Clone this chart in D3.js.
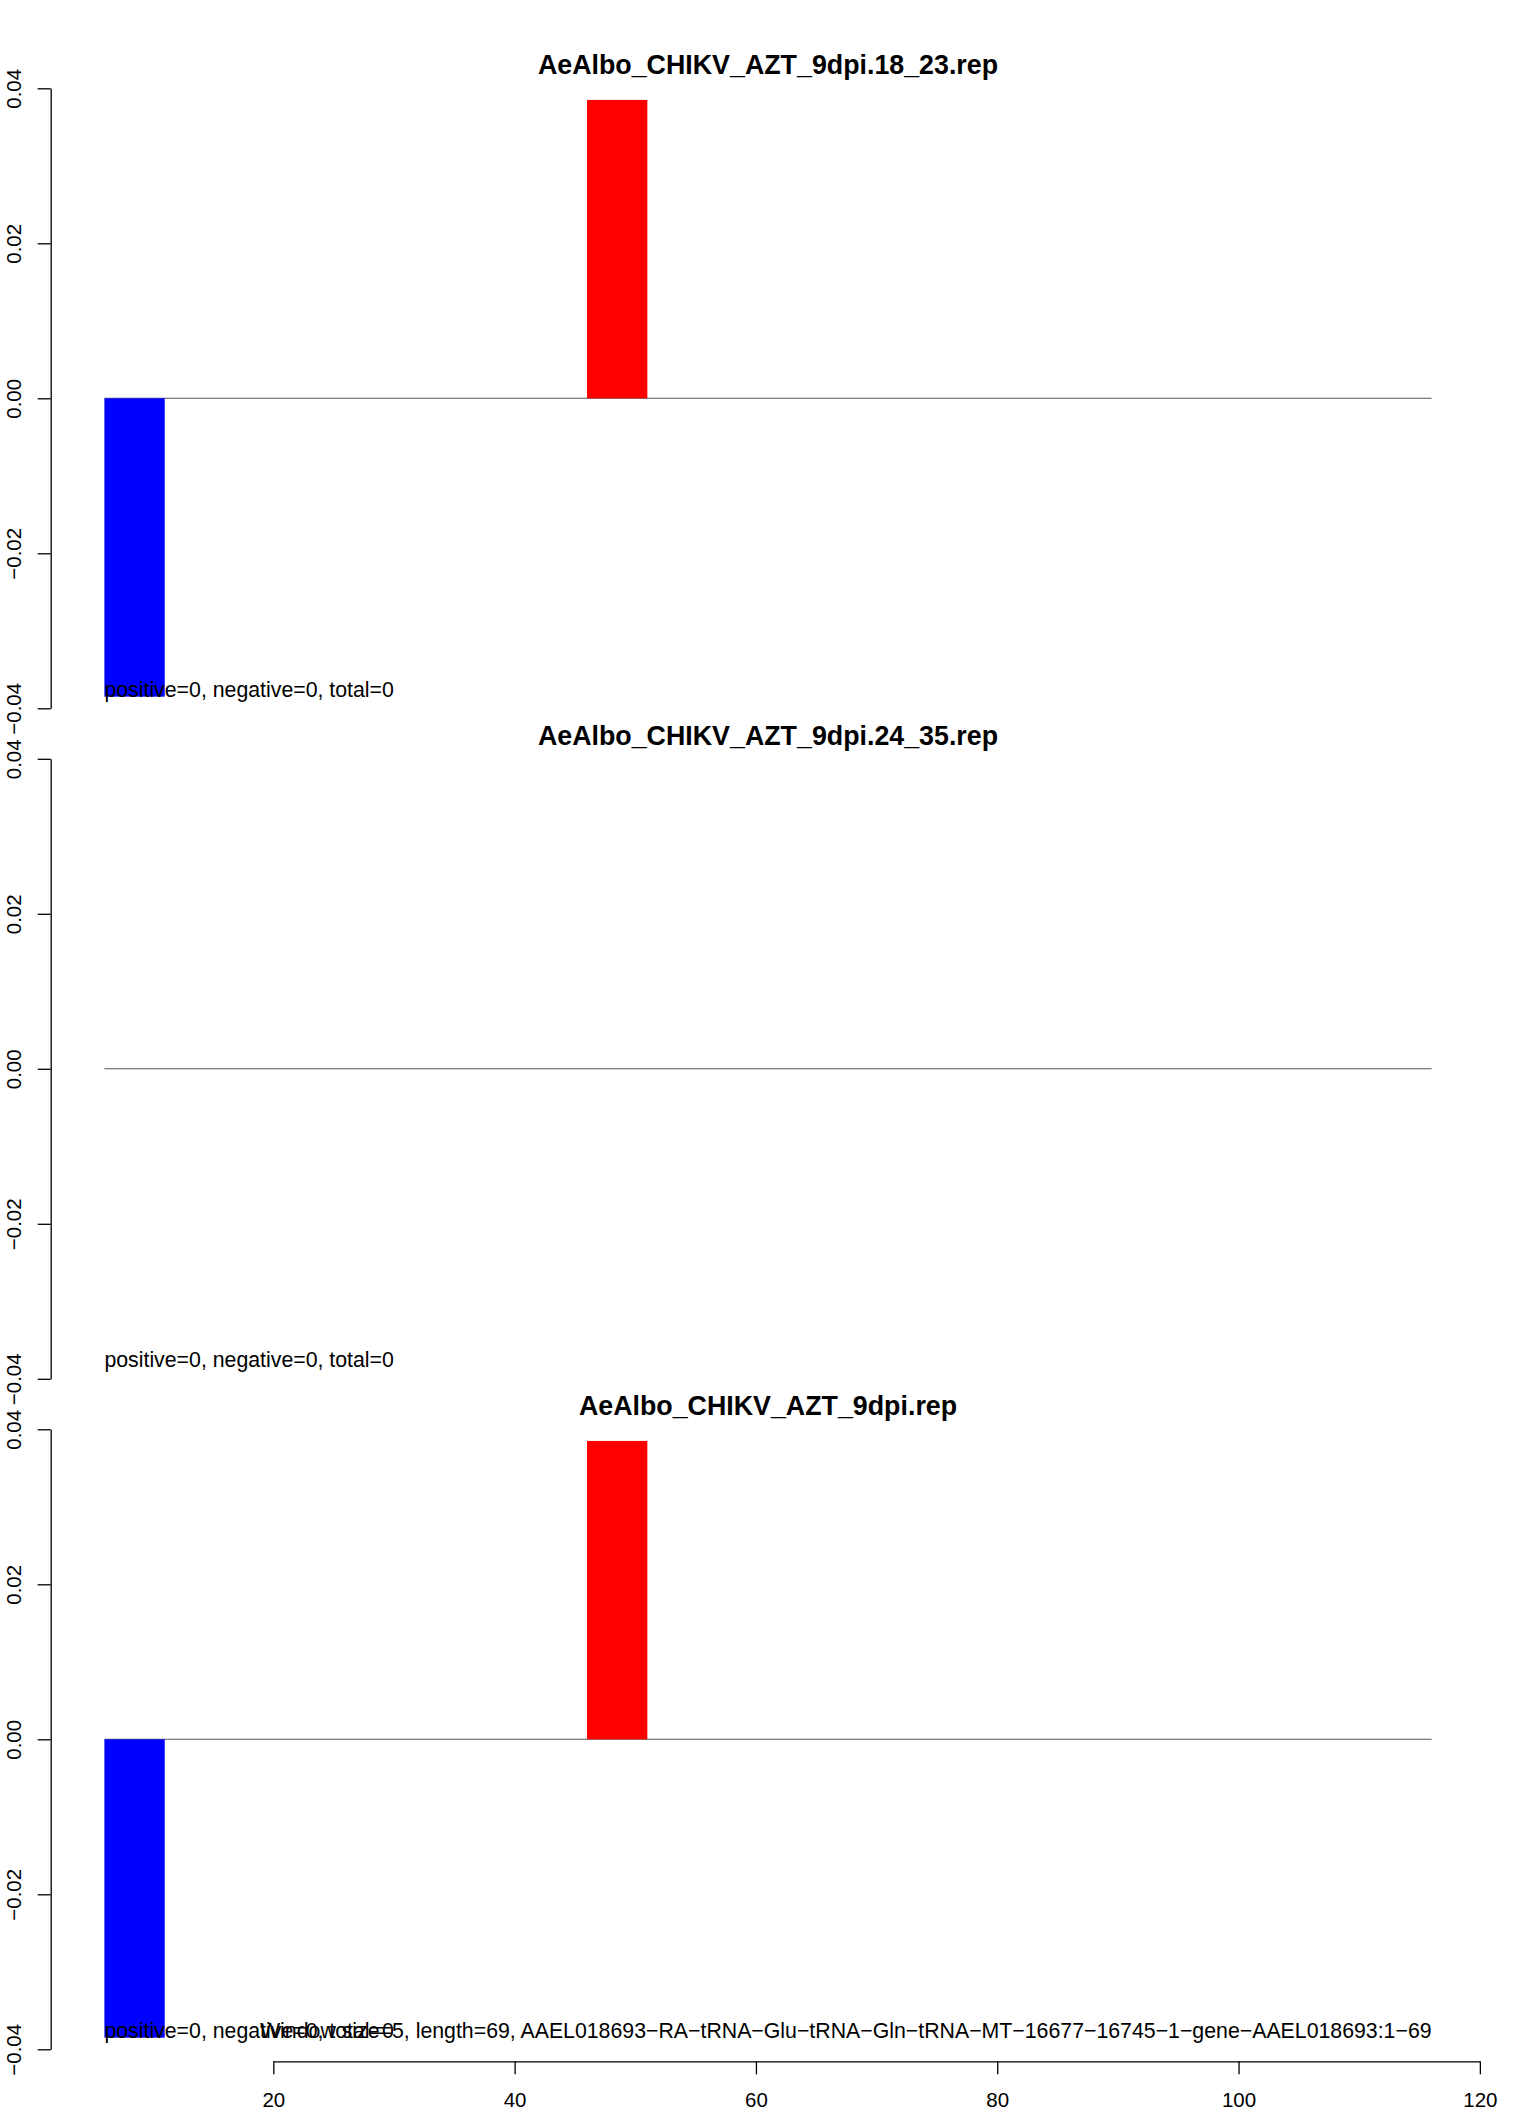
<!DOCTYPE html>
<html>
<head>
<meta charset="utf-8">
<script src="https://cdn.jsdelivr.net/npm/d3@7"></script>
<style>
  body { margin: 0; background: #fff; }
  svg text { font-family: "Liberation Sans", Arial, Helvetica, sans-serif; fill: #000; }
</style>
</head>
<body>
<svg width="1536" height="2112"></svg>
<script>
// data
var panelTitles = ["AeAlbo_CHIKV_AZT_9dpi.18_23.rep", "AeAlbo_CHIKV_AZT_9dpi.24_35.rep", "AeAlbo_CHIKV_AZT_9dpi.rep"];
var barStarts = [6, 46];
var barEnds = [11, 51];
var barColors = ["blue", "red"];
var panel1Values = [-0.0385, 0.0385];
var panel2Values = [0, 0];
var panel3Values = [-0.0385, 0.0385];
var panelValues = [panel1Values, panel2Values, panel3Values];
var countLabels = ["positive=0, negative=0, total=0", "positive=0, negative=0, total=0", "positive=0, negative=0, total=0"];
var yTicks = [-0.04, -0.02, 0, 0.02, 0.04];
var xTicks = [20, 40, 60, 80, 100, 120];
var xExtent = [6, 116];
var yExtent = [-0.04, 0.04];
var footnote = "Window size=5, length=69, AAEL018693\u2212RA\u2212tRNA\u2212Glu\u2212tRNA\u2212Gln\u2212tRNA\u2212MT\u221216677\u221216745\u22121\u2212gene\u2212AAEL018693:1\u221269";

var svg = d3.select("svg");

var panelTop = 88.3;
var panelStep = 670.5;
var panelHeight = 620;
var axisX = 50.7;

var x = d3.scaleLinear().domain(xExtent).range([104.4, 1431.6]);

panelValues.forEach(function (values, p) {
    var top = panelTop + p * panelStep;
    var y = d3.scaleLinear().domain(yExtent).range([top + panelHeight, top]);
    var g = svg.append("g").attr("class", "panel");

    // zero line
    g.append("line")
        .attr("x1", x(xExtent[0]))
        .attr("x2", x(xExtent[1]))
        .attr("y1", y(0))
        .attr("y2", y(0))
        .attr("stroke", "#555")
        .attr("stroke-width", 1.1);

    g.selectAll("rect")
        .data(values)
        .enter().append("rect")
        .attr("x", function (d, i) { return x(barStarts[i]); })
        .attr("width", function (d, i) { return x(barEnds[i]) - x(barStarts[i]); })
        .attr("y", function (d) { return Math.min(y(d), y(0)); })
        .attr("height", function (d) { return Math.abs(y(d) - y(0)); })
        .attr("fill", function (d, i) { return barColors[i]; });

    var yAxis = g.append("g")
        .attr("transform", "translate(" + axisX + ",0)")
        .call(d3.axisLeft(y).tickValues(yTicks).tickFormat(d3.format(".2f")).tickSize(13).tickSizeOuter(0));
    yAxis.selectAll("path, line").attr("stroke", "#000").attr("stroke-width", 1.3);
    yAxis.selectAll("text")
        .attr("x", 0)
        .attr("dy", 0)
        .attr("transform", "translate(-30,0) rotate(-90)")
        .attr("text-anchor", "middle")
        .style("font-size", "20.5px");

    g.append("text")
        .attr("x", 768)
        .attr("y", top - 14)
        .attr("text-anchor", "middle")
        .style("font-size", "26.8px")
        .style("font-weight", "bold")
        .text(panelTitles[p]);

    g.append("text")
        .attr("x", x(xExtent[0]))
        .attr("y", y(yExtent[0]) - 11.6)
        .style("font-size", "21.3px")
        .text(countLabels[p]);

    if (p === panelValues.length - 1) {
        g.append("text")
            .attr("x", x(xExtent[1]))
            .attr("y", y(yExtent[0]) - 11.6)
            .attr("text-anchor", "end")
            .style("font-size", "21.3px")
            .text(footnote);

        var xAxisScale = x.copy().domain([xTicks[0], xTicks[xTicks.length - 1]])
            .range([x(xTicks[0]), x(xTicks[xTicks.length - 1])]);
        var xAxis = g.append("g")
            .attr("transform", "translate(0," + (y(yExtent[0]) + 12) + ")")
            .call(d3.axisBottom(xAxisScale).tickValues(xTicks).tickSize(13).tickSizeOuter(0));
        xAxis.selectAll("path, line").attr("stroke", "#000").attr("stroke-width", 1.3);
        xAxis.selectAll("text")
            .attr("y", 46)
            .attr("dy", 0)
            .style("font-size", "20.5px");
    }
});
</script>
</body>
</html>
